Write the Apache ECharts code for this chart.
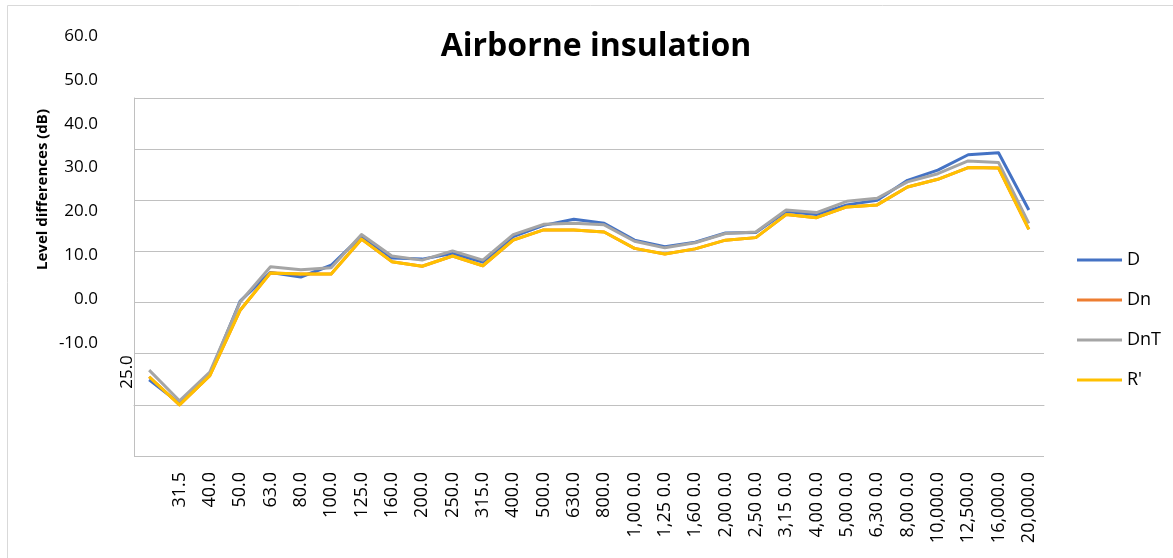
<!DOCTYPE html>
<html>
<head>
<meta charset="utf-8">
<script src="https://cdn.jsdelivr.net/npm/echarts@6/dist/echarts.min.js"></script>
<style>
  html, body { margin: 0; padding: 0; background: #fff; }
  #chart { width: 1173px; height: 558px; }
</style>
</head>
<body>
<div id="chart"></div>
<script>
// band centre frequencies, labels as they show on the sheet
const categories = ['25.0', '31.5', '40.0', '50.0', '63.0', '80.0', '100.0', '125.0', '160.0', '200.0',
  '250.0', '315.0', '400.0', '500.0', '630.0', '800.0', '1,00 0.0', '1,25 0.0', '1,60 0.0', '2,00 0.0',
  '2,50 0.0', '3,15 0.0', '4,00 0.0', '5,00 0.0', '6,30 0.0', '8,00 0.0', '10,000.0', '12,500.0', '16,000.0', '20,000.0'];
const yTickLabels = ['-10.0', '0.0', '10.0', '20.0', '30.0', '40.0', '50.0', '60.0'];

const seriesD = [4.9, 0.3, 6.0, 20.3, 25.9, 25.0, 27.3, 33.0, 28.7, 28.5, 29.6, 27.9, 32.9, 35.1, 36.3,
  35.5, 32.2, 30.9, 31.8, 33.6, 33.7, 37.8, 37.2, 39.1, 40.0, 43.9, 45.9, 48.9, 49.3, 38.1];
const seriesDn = [5.5, 0.0, 5.7, 18.5, 25.8, 25.6, 25.6, 32.4, 28.0, 27.1, 29.1, 27.2, 32.2, 34.2, 34.2,
  33.8, 30.6, 29.5, 30.5, 32.2, 32.7, 37.2, 36.6, 38.7, 39.1, 42.6, 44.1, 46.4, 46.3, 34.3];
const seriesDnT = [6.8, 0.8, 6.4, 20.1, 27.0, 26.4, 26.8, 33.3, 29.1, 28.3, 30.1, 28.3, 33.3, 35.3, 35.5,
  35.2, 32.0, 30.7, 31.7, 33.5, 33.8, 38.1, 37.6, 39.8, 40.4, 43.6, 45.2, 47.7, 47.4, 35.5];
const seriesR = [5.5, 0.0, 5.7, 18.5, 25.8, 25.6, 25.6, 32.4, 28.0, 27.1, 29.1, 27.2, 32.2, 34.2, 34.2,
  33.8, 30.6, 29.5, 30.5, 32.2, 32.7, 37.2, 36.6, 38.7, 39.1, 42.6, 44.1, 46.4, 46.3, 34.3];

const font = "'Open Sans', 'Noto Sans', sans-serif";
const gridColor = '#c0c0c0';

function lineSeries(name, data, color) {
  return {
    name: name,
    type: 'line',
    data: data,
    symbol: 'none',
    xAxisIndex: 0,
    yAxisIndex: 0,
    lineStyle: { color: color, width: 3, join: 'round' },
    itemStyle: { color: color }
  };
}

const chart = echarts.init(document.getElementById('chart'));
chart.setOption({
  animation: false,
  textStyle: { fontFamily: font },
  title: {
    text: 'Airborne insulation',
    left: 591,
    textAlign: 'center',
    top: 26,
    textStyle: { fontSize: 32, fontWeight: 'bold', color: '#000', fontFamily: font }
  },
  legend: {
    orient: 'vertical',
    left: 1072,
    top: 246,
    icon: 'rect',
    itemWidth: 45,
    itemHeight: 3,
    itemGap: 22,
    textStyle: { fontSize: 18, color: '#000', fontFamily: font },
    data: ['D', 'Dn', 'DnT', "R'"]
  },
  grid: [
    { left: 134, right: 129, top: 98, bottom: 102 },
    { left: 106, width: 10, top: 36, height: 307 }
  ],
  xAxis: [
    {
      type: 'category',
      gridIndex: 0,
      data: categories,
      boundaryGap: true,
      axisLine: { lineStyle: { color: gridColor } },
      axisTick: { show: false },
      axisLabel: {
        interval: 0,
        rotate: 90,
        margin: 16,
        fontSize: 18,
        color: '#000',
        fontFamily: font,
        formatter: (v, i) => (i === 0 ? '' : v)
      }
    },
    { type: 'category', gridIndex: 1, show: false, data: ['a'] }
  ],
  yAxis: [
    {
      type: 'value',
      gridIndex: 0,
      min: -10,
      max: 60,
      interval: 10,
      axisLine: { show: true, lineStyle: { color: gridColor } },
      axisTick: { show: false },
      axisLabel: { show: false },
      splitLine: { lineStyle: { color: gridColor } }
    },
    {
      type: 'category',
      gridIndex: 1,
      data: yTickLabels,
      boundaryGap: false,
      axisLine: { show: false },
      axisTick: { show: false },
      splitLine: { show: false },
      axisLabel: { interval: 0, fontSize: 17, color: '#000', margin: 8, fontFamily: font },
      name: 'Level differences (dB)',
      nameLocation: 'middle',
      nameRotate: 90,
      nameGap: 56,
      nameTextStyle: { fontSize: 15, fontWeight: 'bold', color: '#000', fontFamily: font }
    }
  ],
  graphic: [
    {
      type: 'rect',
      shape: { x: 7.5, y: 5.5, width: 1200, height: 600 },
      style: { fill: 'none', stroke: '#d9d9d9', lineWidth: 1 },
      silent: true
    },
    {
      type: 'text',
      x: 127,
      y: 372,
      rotation: Math.PI / 2,
      style: {
        text: categories[0],
        fontSize: 17,
        fontFamily: font,
        fill: '#000',
        textAlign: 'center',
        textVerticalAlign: 'middle'
      }
    }
  ],
  series: [
    lineSeries('D', seriesD, '#4472c4'),
    lineSeries('Dn', seriesDn, '#ed7d31'),
    lineSeries('DnT', seriesDnT, '#a5a5a5'),
    lineSeries("R'", seriesR, '#ffc000')
  ]
});
</script>
</body>
</html>
